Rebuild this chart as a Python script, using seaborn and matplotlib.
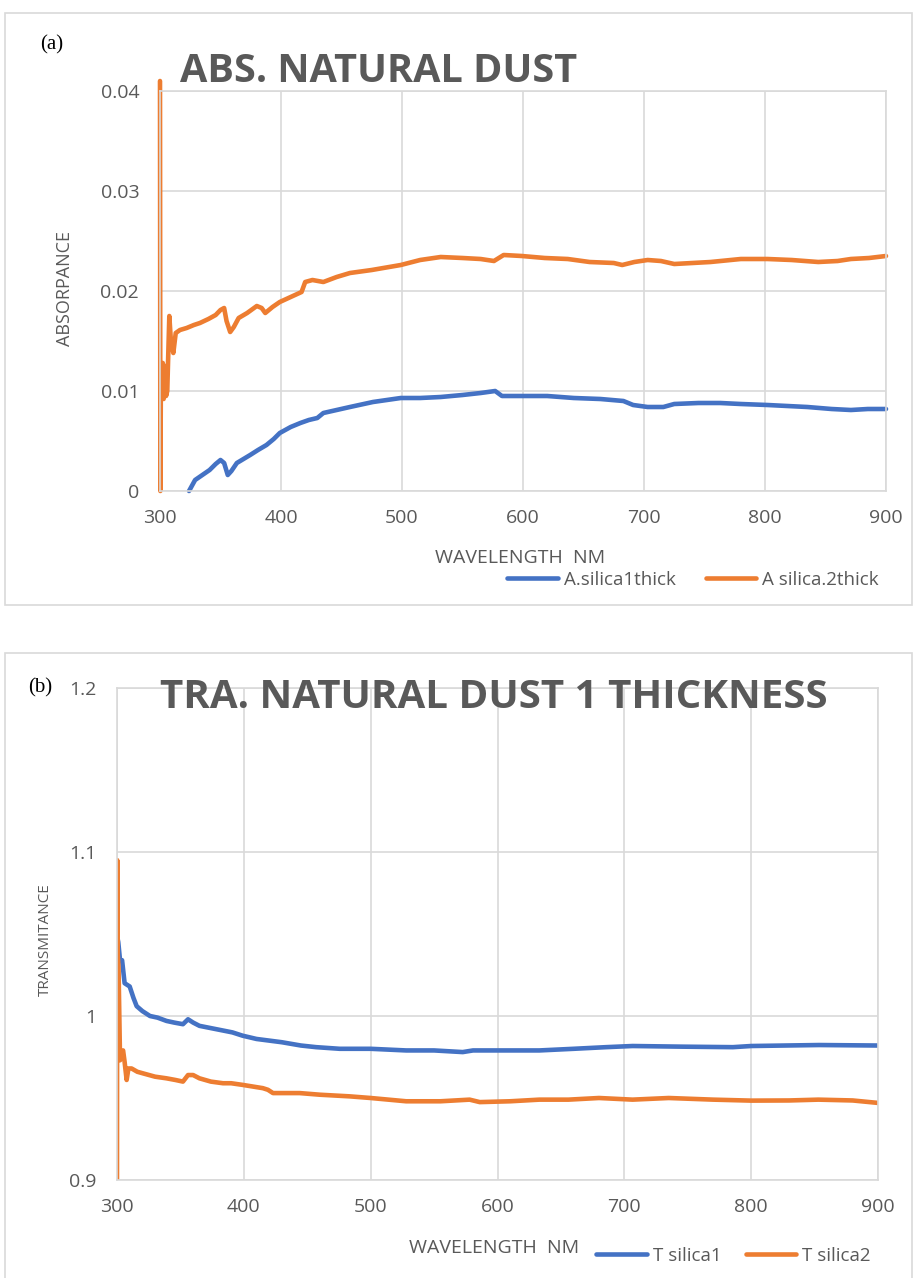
import numpy as np
import pandas as pd
import seaborn as sns
import matplotlib.pyplot as plt
from matplotlib.patches import Rectangle

# panel (a) absorptance
abs1_wl = [324, 329, 335, 341, 346, 350, 353, 356, 359, 363.5, 369, 374.5, 381, 388, 394,
           399, 408, 416, 423, 430, 435, 446, 457, 476, 499, 515, 532, 550, 565, 577,
           582.6, 600, 620, 642, 664, 683, 691, 703, 716, 725, 745, 763, 780, 802, 835,
           855, 871, 885, 900]
abs1 = [0.0000, 0.0011, 0.0016, 0.0021, 0.0027, 0.0031, 0.0028, 0.0016, 0.0020, 0.0028,
        0.0032, 0.0036, 0.0041, 0.0046, 0.0052, 0.0058, 0.0064, 0.0068, 0.0071, 0.0073,
        0.0078, 0.0081, 0.0084, 0.0089, 0.0093, 0.0093, 0.0094, 0.0096, 0.0098, 0.0100,
        0.0095, 0.0095, 0.0095, 0.0093, 0.0092, 0.0090, 0.0086, 0.0084, 0.0084, 0.0087,
        0.0088, 0.0088, 0.0087, 0.0086, 0.0084, 0.0082, 0.0081, 0.0082, 0.0082]

abs2_wl = [300.0, 300.3, 300.8, 301.5, 302.3, 303.0, 304.0, 305.0, 306.0, 307.7, 309.0,
           311.0, 313.0, 316.5, 322, 328, 333, 340, 346, 350, 353, 355, 358, 361, 365,
           372, 380, 384, 387, 393, 399, 408, 417, 420, 426, 435, 446, 457, 475, 499,
           515, 532, 550, 565, 576, 584, 599, 618, 637, 655, 675, 682, 692, 703, 714,
           725, 740, 755, 780, 802, 822, 844, 860, 871, 886, 900]
abs2 = [0.0410, 0.0000, 0.0128, 0.0095, 0.0128, 0.0092, 0.0125, 0.0095, 0.0100, 0.0175,
        0.0150, 0.0138, 0.0158, 0.0161, 0.0163, 0.0166, 0.0168, 0.0172, 0.0176, 0.0181,
        0.0183, 0.0170, 0.0159, 0.0164, 0.0173, 0.0178, 0.0185, 0.0183, 0.0178, 0.0184,
        0.0189, 0.0194, 0.0199, 0.0209, 0.0211, 0.0209, 0.0214, 0.0218, 0.0221, 0.0226,
        0.0231, 0.0234, 0.0233, 0.0232, 0.0230, 0.0236, 0.0235, 0.0233, 0.0232, 0.0229,
        0.0228, 0.0226, 0.0229, 0.0231, 0.0230, 0.0227, 0.0228, 0.0229, 0.0232, 0.0232,
        0.0231, 0.0229, 0.0230, 0.0232, 0.0233, 0.0235]

# panel (b) transmittance
tra1_wl = [300.0, 301.0, 302.4, 304.0, 306.0, 310.0, 313, 315.5, 320, 326, 332, 339, 345,
           352, 356, 360, 365, 378, 391, 399, 410, 430, 445, 457, 475.6, 500, 528, 550,
           572.6, 580.7, 610, 633, 660, 685.6, 706.5, 746, 785.6, 800, 853.5, 900]
tra1 = [1.049, 1.045, 1.034, 1.034, 1.020, 1.018, 1.011, 1.006, 1.003, 1.000, 0.999, 0.997,
        0.996, 0.995, 0.998, 0.996, 0.994, 0.992, 0.990, 0.988, 0.986, 0.984, 0.982, 0.981,
        0.980, 0.980, 0.979, 0.979, 0.978, 0.979, 0.979, 0.979, 0.980, 0.981, 0.9817,
        0.9813, 0.981, 0.9817, 0.9823, 0.982]

tra2_wl = [300.0, 300.2, 300.5, 301.2, 302.4, 303.5, 304.8, 306.0, 307.6, 309.0, 311.5, 316,
           320.6, 330, 339, 346, 352, 356, 360, 365, 374, 383.6, 390, 399, 407, 415, 419,
           423, 433, 444, 460, 483.5, 500, 528, 555, 578, 586, 610, 633, 656, 680, 706.5,
           735, 770, 800, 830, 853, 880, 900]
tra2 = [0.900, 1.095, 1.038, 1.030, 0.973, 0.978, 0.979, 0.972, 0.961, 0.968, 0.968, 0.966,
        0.965, 0.963, 0.962, 0.961, 0.960, 0.964, 0.964, 0.962, 0.960, 0.959, 0.959, 0.958,
        0.957, 0.956, 0.955, 0.953, 0.953, 0.953, 0.952, 0.951, 0.950, 0.948, 0.948, 0.949,
        0.9475, 0.948, 0.949, 0.949, 0.950, 0.949, 0.950, 0.949, 0.9484, 0.9485, 0.949,
        0.9485, 0.947]

names_a = ["A.silica1thick", "A silica.2thick"]
names_b = ["T silica1", "T silica2"]
x_ticks = [300, 400, 500, 600, 700, 800, 900]
yticks_a = [0, 0.01, 0.02, 0.03, 0.04]
ylabels_a = ["0", "0.01", "0.02", "0.03", "0.04"]
yticks_b = [0.9, 1.0, 1.1, 1.2]
ylabels_b = ["0.9", "1", "1.1", "1.2"]

BLUE = "#4472C4"
ORANGE = "#ED7D31"
GRID = "#D9D9D9"
TXT = "#595959"

df_a = pd.concat([
    pd.DataFrame({"wl": abs1_wl, "val": abs1, "series": names_a[0]}),
    pd.DataFrame({"wl": abs2_wl, "val": abs2, "series": names_a[1]}),
])
df_b = pd.concat([
    pd.DataFrame({"wl": tra1_wl, "val": tra1, "series": names_b[0]}),
    pd.DataFrame({"wl": tra2_wl, "val": tra2, "series": names_b[1]}),
])

sns.set_theme(style="white")
plt.rcParams["font.family"] = ["Open Sans", "DejaVu Sans"]

W, H = 913, 1278
fig = plt.figure(figsize=(W / 100, H / 100), dpi=100)


def fx(x):
    return x / W


def fy(y):
    return 1 - y / H


# chart frames
fig.patches.append(Rectangle((fx(5), fy(605)), fx(907), 592 / H, transform=fig.transFigure,
                             fill=False, edgecolor=GRID, linewidth=1.2))
fig.patches.append(Rectangle((fx(5), fy(1300)), fx(907), 647 / H, transform=fig.transFigure,
                             fill=False, edgecolor=GRID, linewidth=1.2))


def style_axes(ax, yticks, ylabels, ylim):
    ax.set_xlim(300, 900)
    ax.set_ylim(*ylim)
    ax.set_xticks(x_ticks)
    ax.set_xticklabels([str(t) for t in x_ticks])
    ax.set_yticks(yticks)
    ax.set_yticklabels(ylabels)
    ax.grid(True, color=GRID, linewidth=1.2)
    ax.set_axisbelow(True)
    for s in ax.spines.values():
        s.set_color(GRID)
        s.set_linewidth(1.2)
    ax.tick_params(axis="both", length=0, labelsize=14, labelcolor=TXT)
    ax.tick_params(axis="x", pad=13)
    ax.tick_params(axis="y", pad=15)
    ax.set_xlabel("")
    ax.set_ylabel("")


leg_kw = dict(ncol=2, frameon=False, fontsize=13.5, handlelength=2.7, handletextpad=0.3,
              borderpad=0, labelcolor=TXT)

# panel (a)
ax1 = fig.add_axes([fx(160), fy(491), (886 - 160) / W, (491 - 91) / H])
sns.lineplot(data=df_a, x="wl", y="val", hue="series", palette=[BLUE, ORANGE],
             estimator=None, sort=False, linewidth=3.3, ax=ax1)
style_axes(ax1, yticks_a, ylabels_a, (0, 0.04))
for ln in ax1.lines:
    ln.set_clip_on(False)
h, l = ax1.get_legend_handles_labels()
ax1.get_legend().remove()
fig.legend(h, l, loc="center left", bbox_to_anchor=(fx(498), fy(580)),
           columnspacing=1.6, **leg_kw)

fig.text(fx(180), fy(71), "ABS. NATURAL DUST", ha="left", va="center", fontsize=28.5,
         fontweight="bold", color=TXT)
fig.text(fx(65), fy(288), "ABSORPANCE", rotation=90, ha="center", va="center",
         fontsize=13, color=TXT)
fig.text(fx(520), fy(558), "WAVELENGTH  NM", ha="center", va="center", fontsize=14,
         color=TXT)
fig.text(fx(40), fy(45), "(a)", ha="left", va="center", fontsize=15, color="black",
         family="Liberation Serif")

# panel (b)
ax2 = fig.add_axes([fx(117), fy(1180), (878 - 117) / W, (1180 - 688) / H])
sns.lineplot(data=df_b, x="wl", y="val", hue="series", palette=[BLUE, ORANGE],
             estimator=None, sort=False, linewidth=3.3, ax=ax2)
style_axes(ax2, yticks_b, ylabels_b, (0.9, 1.2))
h, l = ax2.get_legend_handles_labels()
ax2.get_legend().remove()
fig.legend(h, l, loc="center left", bbox_to_anchor=(fx(587), fy(1256)),
           columnspacing=1.3, **leg_kw)

fig.text(fx(160), fy(697), "TRA. NATURAL DUST 1 THICKNESS", ha="left", va="center",
         fontsize=29, fontweight="bold", color=TXT)
fig.text(fx(45), fy(940), "TRANSMITANCE", rotation=90, ha="center", va="center",
         fontsize=11, color=TXT)
fig.text(fx(494), fy(1248), "WAVELENGTH  NM", ha="center", va="center", fontsize=14,
         color=TXT)
fig.text(fx(28), fy(688), "(b)", ha="left", va="center", fontsize=15, color="black",
         family="Liberation Serif")

fig.savefig("out.png", dpi=100)
